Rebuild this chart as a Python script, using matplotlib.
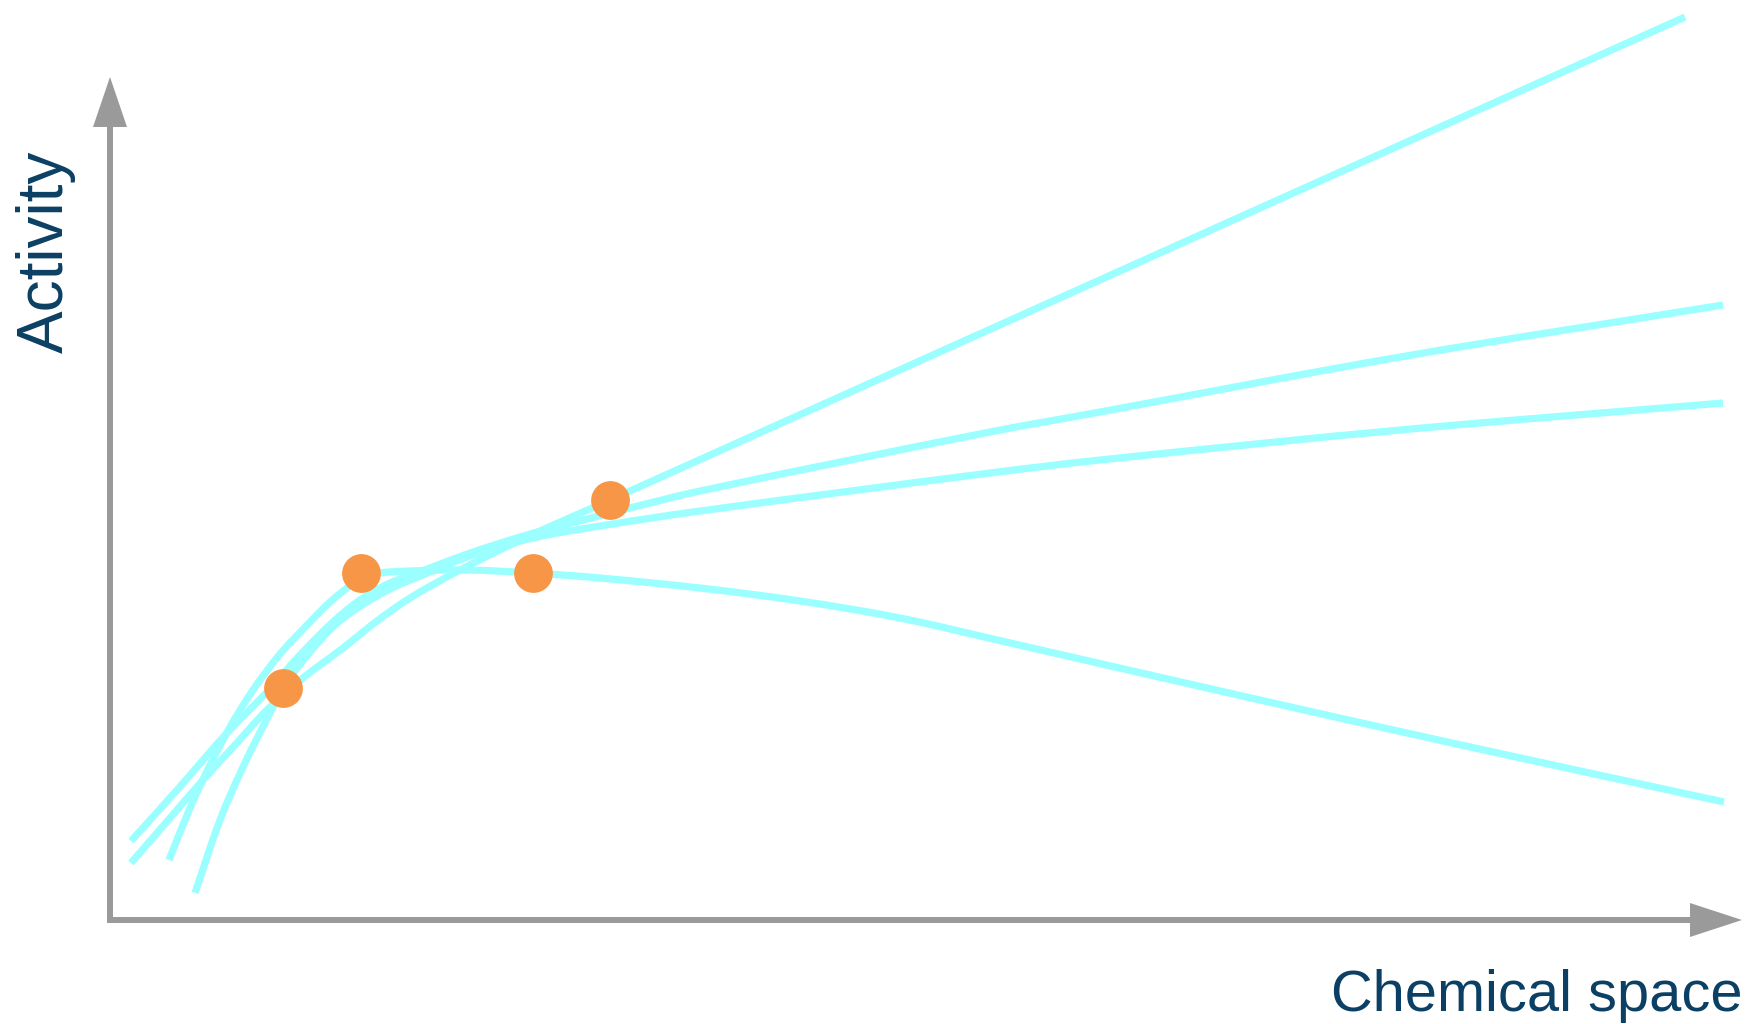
import matplotlib
matplotlib.use("Agg")
import matplotlib.pyplot as plt
from matplotlib.path import Path
from matplotlib.patches import PathPatch
import numpy as np

# Schematic "activity landscape": four model curves fitted through a few measured points.
# Units are arbitrary; origin is where the two axis arrows meet.

# rising steeply, keeps climbing
steep_x = [21, 60, 93, 125, 157, 193, 233, 267, 300, 350, 417, 500, 1575]
steep_y = [57, 102, 140, 175, 210, 242, 272, 299, 322, 350, 383, 420, 903]

# moderate rise
mid_x = [21, 67, 117, 157, 190, 223, 250, 280, 320, 360, 417, 477, 520, 590, 880, 990, 1290, 1613]
mid_y = [79, 130, 187, 228, 265, 298, 320, 337, 352, 367, 385, 401, 412, 429, 488, 508, 563, 615]

# saturating
flat_x = [85, 110, 133, 160, 180, 200, 225, 252, 282, 320, 360, 423, 490, 590, 880, 990, 1290, 1613]
flat_y = [27, 100, 153, 207, 242, 268, 295, 315, 332, 348, 364, 382, 394, 409, 447, 460, 490, 517]

# goes through a maximum then falls
fall_x = [59, 80, 100, 120, 143, 170, 200, 220, 237, 251, 270, 300, 357, 423, 490, 590, 690, 790, 896, 1119, 1342, 1614]
fall_y = [60, 112, 155, 193, 230, 266, 298, 318, 332, 342, 347, 349, 350, 347, 342, 332, 319, 302, 278, 227, 177, 118]

# measured compounds
pts_x = [173, 251, 423, 500]
pts_y = [232, 347, 347, 420]

curve_color = "#9bffff"
dot_color = "#f79646"
axis_color = "#9a9a9a"
text_color = "#0b4064"


def smooth_path(xs, ys):
    # chord-length Catmull-Rom through the points, drawn as cubic Bezier pieces
    p = np.column_stack([xs, ys]).astype(float)
    n = len(p)
    d = np.r_[0, np.cumsum(np.hypot(*np.diff(p, axis=0).T))]
    m = np.zeros_like(p)
    m[0] = (p[1] - p[0]) / (d[1] - d[0])
    m[-1] = (p[-1] - p[-2]) / (d[-1] - d[-2])
    for i in range(1, n - 1):
        m[i] = (p[i + 1] - p[i - 1]) / (d[i + 1] - d[i - 1])
    verts = [p[0]]
    codes = [Path.MOVETO]
    for i in range(n - 1):
        h = d[i + 1] - d[i]
        verts += [p[i] + m[i] * h / 3, p[i + 1] - m[i + 1] * h / 3, p[i + 1]]
        codes += [Path.CURVE4] * 3
    return Path(verts, codes)


fig = plt.figure(figsize=(17.52, 10.24), dpi=100)
ax = fig.add_axes([0, 0, 1, 1])
ax.set_xlim(-110, 1642)
ax.set_ylim(-104, 920)
ax.axis("off")

# axes drawn as arrows
ax.arrow(0, -3, 0, 846, width=6, head_width=34, head_length=50,
         length_includes_head=True, color=axis_color, lw=0, zorder=1)
ax.arrow(-3, 0, 1635, 0, width=6, head_width=34, head_length=52,
         length_includes_head=True, color=axis_color, lw=0, zorder=1)

for xs, ys in [(steep_x, steep_y), (mid_x, mid_y), (flat_x, flat_y), (fall_x, fall_y)]:
    ax.add_patch(PathPatch(smooth_path(xs, ys), fill=False, edgecolor=curve_color,
                           lw=5.2, capstyle="butt", joinstyle="round", zorder=2))

ax.scatter(pts_x, pts_y, s=780, marker="o", color=dot_color, linewidths=0, zorder=3)

ax.text(-47, 567, "Activity", rotation=90, rotation_mode="anchor",
        ha="left", va="baseline", fontsize=46, color=text_color,
        family="Liberation Sans")
ax.text(1633, -91, "Chemical space", ha="right", va="baseline",
        fontsize=41.6, color=text_color, family="Liberation Sans")

fig.savefig("out.png", dpi=100)
